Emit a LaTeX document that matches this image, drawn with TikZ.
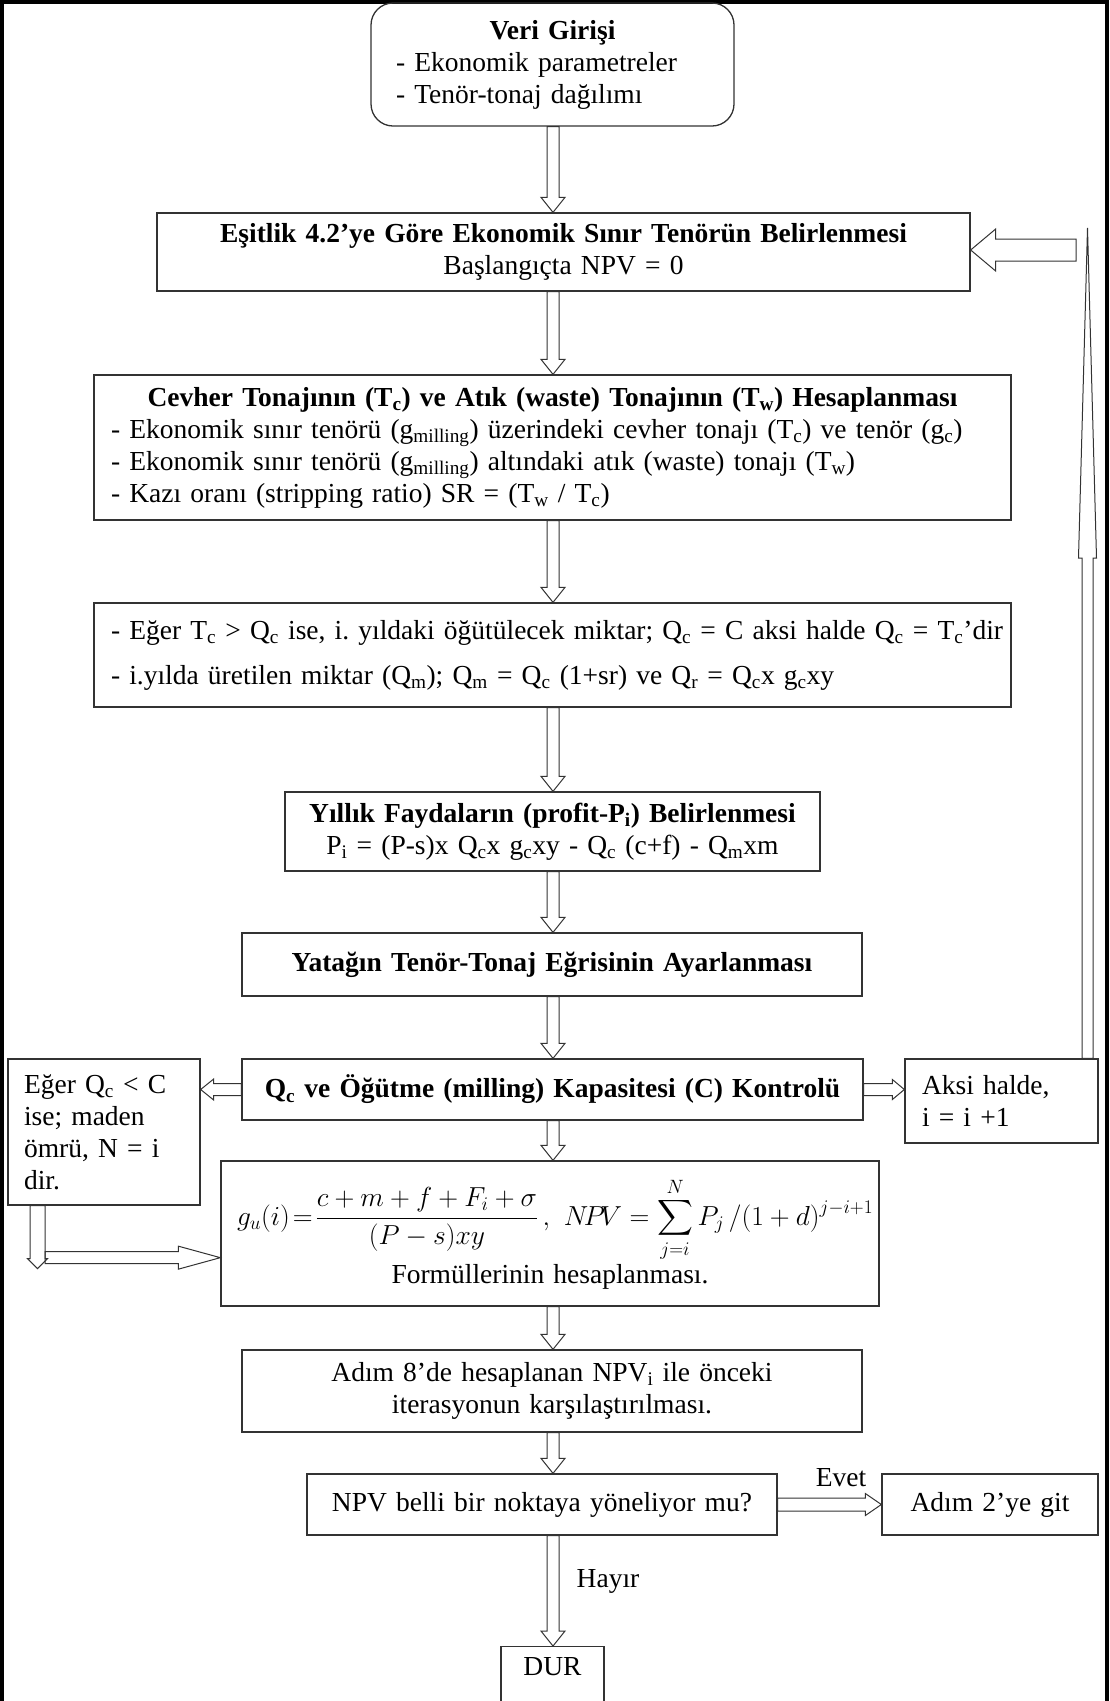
\documentclass[tikz,border=0pt]{standalone}
\usepackage{fix-cm}
\usepackage{exscale}
\usepackage{fontspec}
\setmainfont{Liberation Serif}
\usetikzlibrary{calc,positioning}

\tikzset{
  every node/.style={font=\fontsize{27.5}{32}\selectfont},
  box/.style={draw=black!80, line width=1.3pt, inner xsep=16pt, inner ysep=3pt, align=center},
  hollow arrow/.style n args={3}{draw=black!80, line width=1pt, to path={
      let \p1=(\tikztostart), \p2=(\tikztotarget),
          \n1={atan2(\y2-(\y1),\x2-(\x1))}, \n2={veclen(\x2-(\x1),\y2-(\y1))} in
      {[shift={(\p1)}, rotate=\n1]
        (0pt,#1) -- ({\n2*1pt-#3},#1) -- ({\n2*1pt-#3},#2) -- ({\n2*1pt},0pt)
        -- ({\n2*1pt-#3},-#2) -- ({\n2*1pt-#3},-#1) -- (0pt,-#1) -- cycle}}},
  flow/.style={hollow arrow={6pt}{12pt}{15pt}}
}
\newcommand{\boxtitle}[1]{\makebox[\linewidth][c]{\textbf{#1}}}

\begin{document}
\begin{tikzpicture}[x=1pt, y=-1pt]
  \useasboundingbox (0,0) rectangle (1109,1701);
  \draw[line width=3.5pt] (2,1701) -- (2,1.75) -- (1107,1.75) -- (1107,1701);

  % main column
  \node[box, rounded corners=22pt, inner xsep=25pt, text width=313pt, minimum height=123pt, align=left] (veri) at (552.5,64.5)
    {\boxtitle{Veri Girişi}\\- Ekonomik parametreler\\- Tenör-tonaj dağılımı};
  \node[box, text width=781pt, minimum height=78pt] (sinir) at (563.5,252)
    {\textbf{Eşitlik 4.2’ye Göre Ekonomik Sınır Tenörün Belirlenmesi}\\Başlangıçta NPV = 0};
  \node[box, inner xsep=17pt, text width=883pt, minimum height=145pt, align=left] (tonaj) at (552.5,447.5)
    {\boxtitle{Cevher Tonajının (T\textsubscript{c}) ve Atık (waste) Tonajının (T\textsubscript{w}) Hesaplanması}\\
     - Ekonomik sınır tenörü (g\textsubscript{milling}) üzerindeki cevher tonajı (T\textsubscript{c}) ve tenör (g\textsubscript{c})\\
     - Ekonomik sınır tenörü (g\textsubscript{milling}) altındaki atık (waste) tonajı (T\textsubscript{w})\\
     - Kazı oranı (stripping ratio) SR = (T\textsubscript{w} / T\textsubscript{c})};
  \node[box, inner xsep=10pt, text width=897pt, minimum height=104pt, align=left] (miktar) at (552.5,655)
    {\hspace*{7pt}\mbox{- Eğer T\textsubscript{c} > Q\textsubscript{c} ise, i.\ yıldaki öğütülecek miktar; Q\textsubscript{c} = C aksi halde Q\textsubscript{c} = T\textsubscript{c}’dir}\\[13pt]
     \hspace*{7pt}- i.yılda üretilen miktar (Q\textsubscript{m}); Q\textsubscript{m} = Q\textsubscript{c} (1+sr) ve Q\textsubscript{r} = Q\textsubscript{c}x g\textsubscript{c}xy};
  \node[box, text width=503pt, minimum height=79pt] (fayda) at (552.5,831.5)
    {\textbf{Yıllık Faydaların (profit-P\textsubscript{i}) Belirlenmesi}\\
     P\textsubscript{i} = (P-s)x Q\textsubscript{c}x g\textsubscript{c}xy - Q\textsubscript{c} (c+f) - Q\textsubscript{m}xm};
  \node[box, text width=588pt, minimum height=63pt] (egri) at (552,964.5)
    {\textbf{Yatağın Tenör-Tonaj Eğrisinin Ayarlanması}};
  \node[box, text width=589pt, minimum height=61pt] (kontrol) at (552.5,1089.5)
    {\textbf{Q\textsubscript{c} ve Öğütme (milling) Kapasitesi (C) Kontrolü}};
  \node[box, text width=626pt, minimum height=145pt] (formul) at (550,1233.5)
    {\mbox{$\displaystyle g_u(i)\!=\!\frac{c+m+f+F_i+\sigma}{(P-s)xy}\,,\ N\!P\!V=\sum_{j=i}^{N}P_j\,/(1+d)^{j-i+1}$}\\[2pt]
     Formüllerinin hesaplanması.};
  \node[box, text width=588pt, minimum height=82pt] (karsi) at (552,1391)
    {Adım 8’de hesaplanan NPV\textsubscript{i} ile önceki\\iterasyonun karşılaştırılması.};
  \node[box, text width=438pt, minimum height=61pt] (yonel) at (542,1504.5)
    {NPV belli bir noktaya yöneliyor mu?};
  \node[box, text width=184pt, minimum height=61pt] (git) at (990,1504.5) {Adım 2’ye git};
  \node[box, anchor=north, inner xsep=0pt, inner ysep=12pt, minimum width=103pt,
        text height=17pt, text depth=40pt] (dur) at (552.5,1646) {DUR};

  % side boxes
  \node[box, text width=160pt, minimum height=146pt, align=left] (lbox) at (104,1132)
    {Eğer Q\textsubscript{c} < C\\ise; maden\\ömrü, N = i\\dir.};
  \node[box, inner xsep=17pt, text width=159pt, minimum height=84pt, align=left] (aksi) at (1001.5,1101)
    {Aksi halde,\\i = i +1};

  \node (evet) at (841,1478) {Evet};
  \node (hayir) at (608,1581) {Hayır};

  % hollow arrows down the column
  \coordinate (col) at (553,0);
  \foreach \a/\b in {veri/sinir, sinir/tonaj, tonaj/miktar, miktar/fayda, fayda/egri,
                     egri/kontrol, kontrol/formul, formul/karsi, karsi/yonel, yonel/dur} {
    \coordinate (s) at (col |- \a.south);
    \coordinate (t) at (col |- \b.north);
    \draw[flow] (s) to (t);
  }
  \draw[hollow arrow={6.5pt}{11pt}{16pt}] (yonel.east) to (git.west);

  % loop on the sides
  \coordinate (lend) at (lbox.east |- kontrol.west);
  \draw[hollow arrow={6pt}{10.5pt}{13pt}] (kontrol.west) to (lend);
  \coordinate (rend) at (aksi.west |- kontrol.east);
  \draw[hollow arrow={6pt}{10pt}{12pt}] (kontrol.east) to (rend);

  \coordinate (fbtop) at (1087.5,228);
  \coordinate (fbfoot) at (aksi.north -| fbtop);
  \draw[hollow arrow={5.5pt}{9pt}{330pt}] (fbfoot) to (fbtop);
  \coordinate (fbin) at (1076,250);
  \coordinate (fbend) at (sinir.east |- fbin);
  \draw[hollow arrow={11pt}{21pt}{25pt}] (fbin) to (fbend);

  \coordinate (lfoot) at ([xshift=-66.5pt]lbox.south);
  \coordinate (ltip) at ([yshift=-63pt]lfoot);
  \draw[hollow arrow={7.5pt}{10pt}{10pt}] (lfoot) to (ltip);
  \coordinate (lturn) at ([xshift=7.5pt,yshift=-52pt]lfoot);
  \coordinate (lgo) at (formul.west |- lturn);
  \draw[hollow arrow={6pt}{11.5pt}{42pt}] (lturn) to (lgo);
\end{tikzpicture}
\end{document}
